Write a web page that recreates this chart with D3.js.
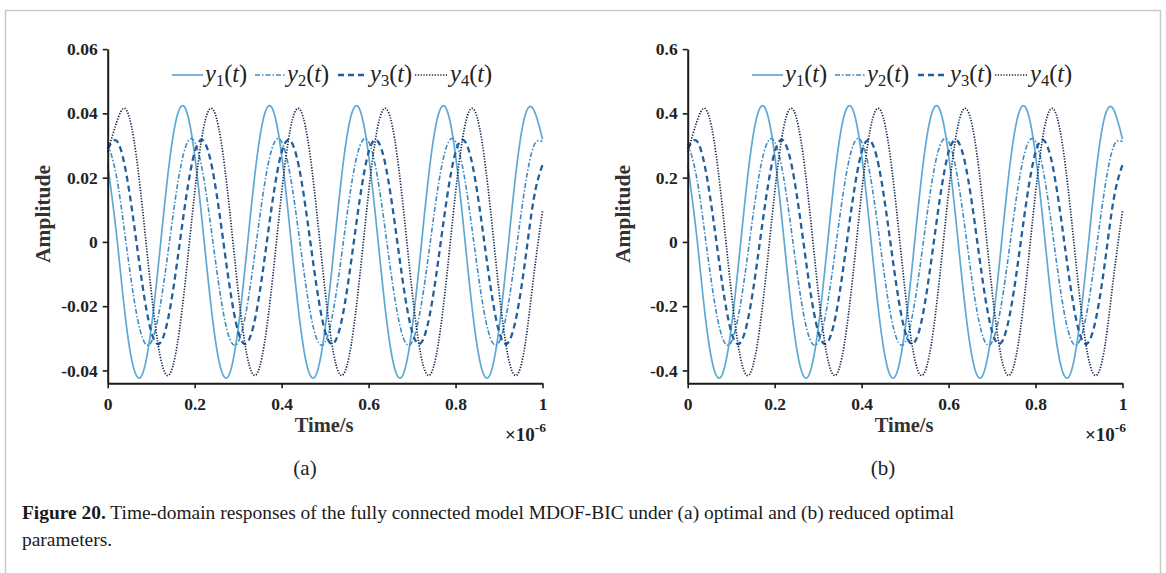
<!DOCTYPE html>
<html>
<head>
<meta charset="utf-8">
<script src="https://cdn.jsdelivr.net/npm/d3@7/dist/d3.min.js"></script>
<style>
  html, body { margin: 0; padding: 0; background: #ffffff; }
  svg { display: block; }
</style>
</head>
<body>
<svg id="chart" width="1166" height="573"></svg>
<script>
// ---------------- DATA ----------------
const time = [0.00,0.02,0.04,0.06,0.08,0.10,0.12,0.14,0.16,0.18,
              0.20,0.22,0.24,0.26,0.28,0.30,0.32,0.34,0.36,0.38,
              0.40,0.42,0.44,0.46,0.48,0.50,0.52,0.54,0.56,0.58,
              0.60,0.62,0.64,0.66,0.68,0.70,0.72,0.74,0.76,0.78,
              0.80,0.82,0.84,0.86,0.88,0.90,0.92,0.94,0.96,0.98,1.00];

const xTickValues = [0, 0.2, 0.4, 0.6, 0.8, 1];
const xTickLabels = ["0", "0.2", "0.4", "0.6", "0.8", "1"];
const yTickValuesA = [-0.04, -0.02, 0, 0.02, 0.04, 0.06];
const yTickLabelsA = ["-0.04", "-0.02", "0", "0.02", "0.04", "0.06"];
const yTickValuesB = [-0.4, -0.2, 0, 0.2, 0.4, 0.6];
const yTickLabelsB = ["-0.4", "-0.2", "0", "0.2", "0.4", "0.6"];

const seriesNames = ["y1", "y2", "y3", "y4"];

// panel (a): optimal parameters
const y1a = [0.0240,0.0027,-0.0227,-0.0394,-0.0411,-0.0270,-0.0027,0.0227,0.0394,0.0411,
             0.0270,0.0027,-0.0227,-0.0394,-0.0411,-0.0270,-0.0027,0.0227,0.0394,0.0411,
             0.0270,0.0027,-0.0227,-0.0394,-0.0411,-0.0270,-0.0027,0.0227,0.0394,0.0411,
             0.0270,0.0027,-0.0227,-0.0394,-0.0411,-0.0270,-0.0027,0.0227,0.0394,0.0411,
             0.0270,0.0027,-0.0227,-0.0394,-0.0411,-0.0270,-0.0027,0.0227,0.0394,0.0411,
             0.0320];
const y2a = [0.0307,0.0205,0.0020,-0.0173,-0.0299,-0.0312,-0.0205,-0.0020,0.0173,0.0299,
             0.0312,0.0205,0.0020,-0.0173,-0.0299,-0.0312,-0.0205,-0.0020,0.0173,0.0299,
             0.0312,0.0205,0.0020,-0.0173,-0.0299,-0.0312,-0.0205,-0.0020,0.0173,0.0299,
             0.0312,0.0205,0.0020,-0.0173,-0.0299,-0.0312,-0.0205,-0.0020,0.0173,0.0299,
             0.0312,0.0205,0.0020,-0.0173,-0.0299,-0.0312,-0.0205,-0.0020,0.0173,0.0299,
             0.0312];
const y3a = [0.0290,0.0315,0.0232,0.0060,-0.0135,-0.0279,-0.0315,-0.0232,-0.0060,0.0135,
             0.0279,0.0315,0.0232,0.0060,-0.0135,-0.0279,-0.0315,-0.0232,-0.0060,0.0135,
             0.0279,0.0315,0.0232,0.0060,-0.0135,-0.0279,-0.0315,-0.0232,-0.0060,0.0135,
             0.0279,0.0315,0.0232,0.0060,-0.0135,-0.0279,-0.0315,-0.0232,-0.0060,0.0135,
             0.0279,0.0315,0.0232,0.0060,-0.0135,-0.0279,-0.0315,-0.0232,-0.0060,0.0135,
             0.0240];
const y4a = [0.0280,0.0370,0.0415,0.0320,0.0104,-0.0153,-0.0351,-0.0415,-0.0320,-0.0104,
             0.0153,0.0351,0.0415,0.0320,0.0104,-0.0153,-0.0351,-0.0415,-0.0320,-0.0104,
             0.0153,0.0351,0.0415,0.0320,0.0104,-0.0153,-0.0351,-0.0415,-0.0320,-0.0104,
             0.0153,0.0351,0.0415,0.0320,0.0104,-0.0153,-0.0351,-0.0415,-0.0320,-0.0104,
             0.0153,0.0351,0.0415,0.0320,0.0104,-0.0153,-0.0351,-0.0415,-0.0320,-0.0104,
             0.0095];

// panel (b): reduced optimal parameters
const y1b = [0.240,0.027,-0.227,-0.394,-0.411,-0.270,-0.027,0.227,0.394,0.411,
             0.270,0.027,-0.227,-0.394,-0.411,-0.270,-0.027,0.227,0.394,0.411,
             0.270,0.027,-0.227,-0.394,-0.411,-0.270,-0.027,0.227,0.394,0.411,
             0.270,0.027,-0.227,-0.394,-0.411,-0.270,-0.027,0.227,0.394,0.411,
             0.270,0.027,-0.227,-0.394,-0.411,-0.270,-0.027,0.227,0.394,0.411,
             0.320];
const y2b = [0.307,0.205,0.020,-0.173,-0.299,-0.312,-0.205,-0.020,0.173,0.299,
             0.312,0.205,0.020,-0.173,-0.299,-0.312,-0.205,-0.020,0.173,0.299,
             0.312,0.205,0.020,-0.173,-0.299,-0.312,-0.205,-0.020,0.173,0.299,
             0.312,0.205,0.020,-0.173,-0.299,-0.312,-0.205,-0.020,0.173,0.299,
             0.312,0.205,0.020,-0.173,-0.299,-0.312,-0.205,-0.020,0.173,0.299,
             0.312];
const y3b = [0.290,0.315,0.232,0.060,-0.135,-0.279,-0.315,-0.232,-0.060,0.135,
             0.279,0.315,0.232,0.060,-0.135,-0.279,-0.315,-0.232,-0.060,0.135,
             0.279,0.315,0.232,0.060,-0.135,-0.279,-0.315,-0.232,-0.060,0.135,
             0.279,0.315,0.232,0.060,-0.135,-0.279,-0.315,-0.232,-0.060,0.135,
             0.279,0.315,0.232,0.060,-0.135,-0.279,-0.315,-0.232,-0.060,0.135,
             0.240];
const y4b = [0.280,0.370,0.415,0.320,0.104,-0.153,-0.351,-0.415,-0.320,-0.104,
             0.153,0.351,0.415,0.320,0.104,-0.153,-0.351,-0.415,-0.320,-0.104,
             0.153,0.351,0.415,0.320,0.104,-0.153,-0.351,-0.415,-0.320,-0.104,
             0.153,0.351,0.415,0.320,0.104,-0.153,-0.351,-0.415,-0.320,-0.104,
             0.153,0.351,0.415,0.320,0.104,-0.153,-0.351,-0.415,-0.320,-0.104,
             0.095];

const captionBold = "Figure 20.";
const captionRest1 = " Time-domain responses of the fully connected model MDOF-BIC under (a) optimal and (b) reduced optimal";
const captionLine2 = "parameters.";

// ---------------- STYLES ----------------
const styles = [
  { color: "#5fa9d4", width: 1.7, dash: null },
  { color: "#3f8cc4", width: 1.6, dash: "5,2,1.5,2" },
  { color: "#215f9e", width: 2.3, dash: "6,4" },
  { color: "#14284c", width: 1.7, dash: "1.3,1.5" }
];

const svg = d3.select("#chart");
const serif = "'Liberation Serif', 'Times New Roman', serif";

// frame border
svg.append("rect")
  .attr("x", 5.5).attr("y", 10.5).attr("width", 1155).attr("height", 620)
  .attr("fill", "none").attr("stroke", "#c9c9c9").attr("stroke-width", 1.5);

const panels = [
  { ox: 0, yDomain: [-0.044, 0.06], yTicks: yTickValuesA, yLabels: yTickLabelsA,
    data: [y1a, y2a, y3a, y4a], tag: "(a)" },
  { ox: 580, yDomain: [-0.44, 0.6], yTicks: yTickValuesB, yLabels: yTickLabelsB,
    data: [y1b, y2b, y3b, y4b], tag: "(b)" }
];

panels.forEach(p => {
  const g = svg.append("g");
  const x = d3.scaleLinear().domain([0, 1]).range([107.7 + p.ox, 542.5 + p.ox]);
  const y = d3.scaleLinear().domain(p.yDomain).range([383.3, 49.1]);

  // lines
  p.data.forEach((vals, i) => {
    const pts = time.map((t, k) => [t, vals[k]]);
    const line = d3.line().x(d => x(d[0])).y(d => y(d[1])).curve(d3.curveNatural);
    const path = g.append("path").datum(pts)
      .attr("d", line)
      .attr("fill", "none")
      .attr("stroke", styles[i].color)
      .attr("stroke-width", styles[i].width)
      .attr("stroke-linejoin", "round");
    if (styles[i].dash) path.attr("stroke-dasharray", styles[i].dash);
  });

  // axes
  const xAxis = d3.axisBottom(x).tickValues(xTickValues)
    .tickFormat((d, i) => xTickLabels[i]).tickSize(5).tickSizeOuter(0).tickPadding(9);
  const yAxis = d3.axisLeft(y).tickValues(p.yTicks)
    .tickFormat((d, i) => p.yLabels[i]).tickSize(5).tickSizeOuter(0).tickPadding(5);

  const gx = g.append("g").attr("transform", "translate(0,383.3)").call(xAxis);
  const gy = g.append("g").attr("transform", `translate(${107.7 + p.ox},0)`).call(yAxis);
  [gx, gy].forEach(a => {
    a.select(".domain").attr("stroke", "#1a1a1a").attr("stroke-width", 2);
    a.selectAll(".tick line").attr("stroke", "#1a1a1a").attr("stroke-width", 1.6);
    a.selectAll(".tick text").attr("font-family", serif).attr("font-weight", "bold")
      .attr("font-size", 17.5).attr("fill", "#222");
  });

  // axis titles
  g.append("text").attr("x", (107.7 + 542.5) / 2 + p.ox - 1).attr("y", 432)
    .attr("text-anchor", "middle").attr("font-family", serif).attr("font-weight", "bold")
    .attr("font-size", 20.5).attr("fill", "#333").text("Time/s");
  g.append("text").attr("transform", `translate(${50 + p.ox},214) rotate(-90)`)
    .attr("text-anchor", "middle").attr("font-family", serif).attr("font-weight", "bold")
    .attr("font-size", 21.5).attr("fill", "#333").text("Amplitude");

  // exponent
  const ex = g.append("text").attr("x", 505 + p.ox).attr("y", 441)
    .attr("font-family", serif).attr("font-weight", "bold").attr("font-size", 19).attr("fill", "#222");
  ex.append("tspan").text("×10");
  ex.append("tspan").attr("dy", -9).attr("font-size", 13.5).text("-6");

  // legend
  const legY = 75;
  const sampleX = [172, 255, 338, 415];
  const sampleW = [31, 30, 30, 33];
  const subs = ["1", "2", "3", "4"];
  sampleX.forEach((sx, i) => {
    const ln = g.append("line")
      .attr("x1", sx + p.ox).attr("x2", sx + sampleW[i] + p.ox)
      .attr("y1", legY).attr("y2", legY)
      .attr("stroke", styles[i].color).attr("stroke-width", styles[i].width);
    if (styles[i].dash) ln.attr("stroke-dasharray", styles[i].dash);
    const tx = g.append("text").attr("x", sx + sampleW[i] + 2 + p.ox).attr("y", legY + 7)
      .attr("font-family", serif).attr("font-size", 24.5).attr("fill", "#222");
    tx.append("tspan").attr("font-style", "italic").text("y");
    tx.append("tspan").attr("font-size", 16.5).attr("dy", 3.5).text(subs[i]);
    tx.append("tspan").attr("dy", -3.5).text("(");
    tx.append("tspan").attr("font-style", "italic").text("t");
    tx.append("tspan").text(")");
  });

  // panel tag
  g.append("text").attr("x", 305 + p.ox + (p.ox ? -2 : 0)).attr("y", 475)
    .attr("text-anchor", "middle").attr("font-family", serif).attr("font-size", 21)
    .attr("fill", "#222").text(p.tag);
});

// caption
const cap1 = svg.append("text").attr("x", 22).attr("y", 519)
  .attr("font-family", serif).attr("font-size", 18).attr("fill", "#1a1a1a");
cap1.append("tspan").attr("font-weight", "bold").text(captionBold);
cap1.append("tspan").text(captionRest1);
const cap2 = svg.append("text").attr("x", 22).attr("y", 546)
  .attr("font-family", serif).attr("font-size", 18).attr("fill", "#1a1a1a").text(captionLine2);
const w = cap1.node().getComputedTextLength();
const fs = 18 * 933 / w;
cap1.attr("font-size", fs);
cap2.attr("font-size", fs);
</script>
</body>
</html>
